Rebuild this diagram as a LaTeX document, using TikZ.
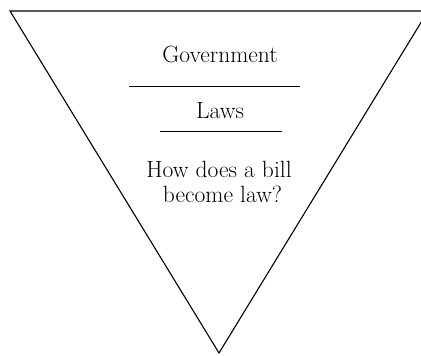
\documentclass[tikz,border=0pt]{standalone}
\usepackage{tikz}
\usetikzlibrary{positioning}
\tikzset{
    tline/.style={draw=black, line width=1.1pt},
    rule/.style={draw=black, line width=1pt},
    lbl/.style={align=center, inner sep=0pt, font=\fontsize{23.5}{25}\selectfont},
}
\begin{document}
\begin{tikzpicture}[x=1pt, y=-1pt]
        \useasboundingbox (0,0) rectangle (421,356);
        \clip (0,0) rectangle (421,356);
        \coordinate (tl) at (10,11);
        \coordinate (tr) at (428,11);
        \coordinate (bot) at (219,353);
        \draw[tline, line join=miter] (tl) -- (tr) -- (bot) -- cycle;
        \node[lbl, anchor=base] (gov) at (220,62) {Government};
        \coordinate (r1a) at (129,86);
        \coordinate (r1b) at (300,86);
        \draw[rule] (r1a) -- (r1b);
        \node[lbl, anchor=base] (laws) at (220,118) {Laws};
        \coordinate (r2a) at (160,131);
        \coordinate (r2b) at (282,131);
        \draw[rule] (r2a) -- (r2b);
        \node[lbl, anchor=base] (bill) at (219,202) {How does a bill\\ \ become law?};
    \end{tikzpicture}
\end{document}
